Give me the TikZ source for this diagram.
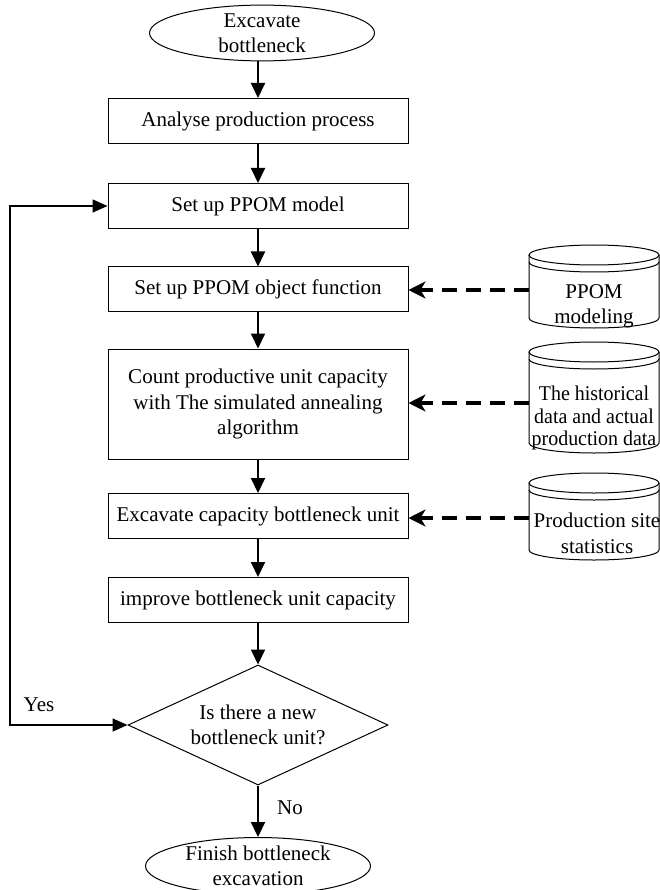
\documentclass[tikz,border=0pt]{standalone}
\usepackage{fontspec}
\setmainfont{Liberation Serif}
\usetikzlibrary{shapes.geometric,arrows.meta}
\begin{document}
\begin{tikzpicture}[x=1pt,y=-1pt,
  every node/.style={font=\fontsize{21}{25.5}\selectfont, align=center, inner sep=0pt},
  procbox/.style={draw, line width=1pt, minimum width=300pt},
  termbox/.style={draw, ellipse, line width=1pt},
  arr/.style={line width=2pt, -{Triangle[length=15pt,width=14pt]}},
  looparr/.style={line width=1.6pt, {Triangle[length=15pt,width=13pt]}-{Triangle[length=15pt,width=13pt]}},
  dasharr/.style={line width=3.2pt, dash pattern=on 15pt off 9pt, -{Stealth[length=17pt,width=17pt,inset=5pt]}},
  cyl/.style={line width=1pt}
]
\useasboundingbox (0,0) rectangle (659,890);

% main column
\node[termbox, minimum width=225pt, minimum height=53pt] (start) at (262,33) {Excavate\\bottleneck};
\node[procbox, minimum height=45pt] (b1) at (258,121) {Analyse production process};
\node[procbox, minimum height=45pt] (b2) at (258,206) {Set up PPOM model};
\node[procbox, minimum height=44pt] (b3) at (258,289) {Set up PPOM object function};
\node[procbox, minimum height=110pt] (b4) at (258,404) {Count productive unit capacity\\with The simulated annealing\\algorithm};
\node[procbox, minimum height=45pt] (b5) at (258,516) {Excavate capacity bottleneck unit};
\node[procbox, minimum height=45pt] (b6) at (258,600) {improve bottleneck unit capacity};
\node[draw, diamond, aspect=2.1667, line width=1pt, minimum width=260pt, minimum height=120pt] (dia) at (258,725) {Is there a new\\bottleneck unit?};
\node[termbox, minimum width=225pt, minimum height=48pt] (end) at (258,866) {Finish bottleneck\\excavation};

% main arrows
\draw[arr] (b1.north |- start.south) -- (b1.north);
\draw[arr] (b1.south) -- (b2.north);
\draw[arr] (b2.south) -- (b3.north);
\draw[arr] (b3.south) -- (b4.north);
\draw[arr] (b4.south) -- (b5.north);
\draw[arr] (b5.south) -- (b6.north);
\draw[arr] (b6.south) -- (dia.north);
\draw[arr] (dia.south) -- (end.north);

% loop
\coordinate (lc) at (10,725);
\draw[looparr] (dia.west) -- (lc) |- (b2.west);
\node (yes) at (39,705) {Yes};
\node (no) at (290,808) {No};

% cylinders
% cylinder 1: top 245, bottom 328
\draw[cyl] (594,255) ellipse[x radius=65, y radius=10];
\draw[cyl] (529,262) arc[start angle=180, end angle=0, x radius=65, y radius=10];
\draw[cyl] (529,255) -- (529,318) arc[start angle=180, end angle=0, x radius=65, y radius=10] -- (659,255);
\node (c1) at (594,306.5) {PPOM\\modeling};
% cylinder 2: top 342, bottom 453
\draw[cyl] (594,352) ellipse[x radius=65, y radius=10];
\draw[cyl] (529,359) arc[start angle=180, end angle=0, x radius=65, y radius=10];
\draw[cyl] (529,352) -- (529,443) arc[start angle=180, end angle=0, x radius=65, y radius=10] -- (659,352);
\node[font=\fontsize{21}{22.5}\selectfont] (c2) at (594,418) {\scalebox{0.95}[1]{The historical}\\\scalebox{0.95}[1]{data and actual}\\\scalebox{0.95}[1]{production data}};
% cylinder 3: top 473, bottom 560
\draw[cyl] (594,483) ellipse[x radius=65, y radius=10];
\draw[cyl] (529,490) arc[start angle=180, end angle=0, x radius=65, y radius=10];
\draw[cyl] (529,483) -- (529,550) arc[start angle=180, end angle=0, x radius=65, y radius=10] -- (659,483);
\node (c3) at (597,533.5) {Production site\\statistics};

% dashed data arrows
\coordinate (c1w) at (529,290);
\coordinate (c2w) at (529,403);
\coordinate (c3w) at (529,518);
\draw[dasharr] (c1w) -- (c1w -| b3.east);
\draw[dasharr] (c2w) -- (c2w -| b4.east);
\draw[dasharr] (c3w) -- (c3w -| b5.east);
\end{tikzpicture}
\end{document}
